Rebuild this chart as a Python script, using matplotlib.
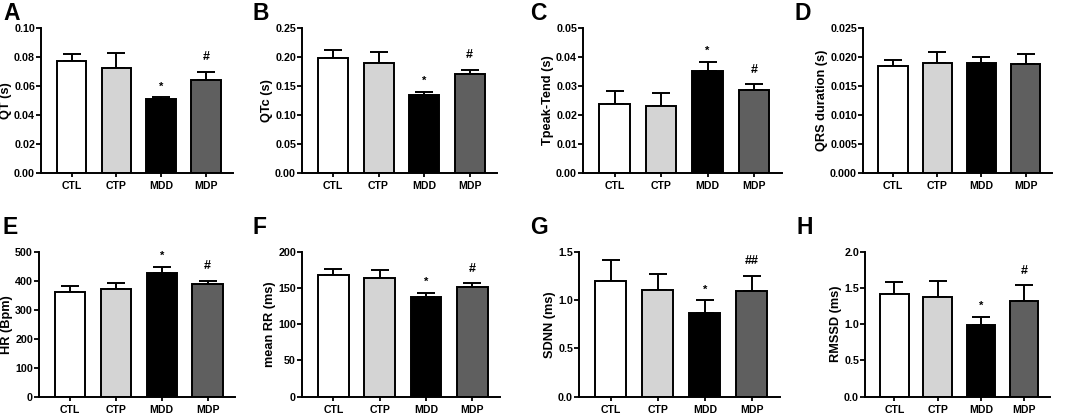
import numpy as np
import matplotlib
matplotlib.use('Agg')
import matplotlib.pyplot as plt
from matplotlib.ticker import FormatStrFormatter

plt.rcParams['font.family'] = ['Liberation Sans', 'DejaVu Sans']
plt.rcParams['font.weight'] = 'bold'

groups = ['CTL', 'CTP', 'MDD', 'MDP']
bar_colors = ['#ffffff', '#d4d4d4', '#000000', '#5f5f5f']

# means and upper error bar tops
qt_mean = [0.0770, 0.0724, 0.0510, 0.0641]
qt_top = [0.0818, 0.0825, 0.0522, 0.0697]
qtc_mean = [0.197, 0.1885, 0.1333, 0.171]
qtc_top = [0.212, 0.2075, 0.1397, 0.1776]
tpe_mean = [0.0236, 0.0230, 0.0352, 0.0286]
tpe_top = [0.0283, 0.0274, 0.0383, 0.0306]
qrs_mean = [0.0184, 0.01885, 0.0189, 0.01874]
qrs_top = [0.01943, 0.02075, 0.01994, 0.02046]
hr_mean = [360, 372, 425, 390]
hr_top = [382, 391, 448, 400]
rr_mean = [167.4, 164.1, 137.5, 151.3]
rr_top = [176.6, 174.7, 143.4, 156.3]
sdnn_mean = [1.20, 1.10, 0.866, 1.093]
sdnn_top = [1.414, 1.266, 0.997, 1.252]
rmssd_mean = [1.412, 1.375, 0.986, 1.319]
rmssd_top = [1.583, 1.597, 1.106, 1.537]

marks_a = ['', '', '*', '#']
marks_g = ['', '', '*', '##']
marks_d = ['', '', '', '']

panels = [
    ('A', 'QT (s)', qt_mean, qt_top, 0.10, 0.02, '%.2f', marks_a),
    ('B', 'QTc (s)', qtc_mean, qtc_top, 0.25, 0.05, '%.2f', marks_a),
    ('C', 'Tpeak-Tend (s)', tpe_mean, tpe_top, 0.05, 0.01, '%.2f', marks_a),
    ('D', 'QRS duration (s)', qrs_mean, qrs_top, 0.025, 0.005, '%.3f', marks_d),
    ('E', 'HR (Bpm)', hr_mean, hr_top, 500, 100, '%d', marks_a),
    ('F', 'mean RR (ms)', rr_mean, rr_top, 200, 50, '%d', marks_a),
    ('G', 'SDNN (ms)', sdnn_mean, sdnn_top, 1.5, 0.5, '%.1f', marks_g),
    ('H', 'RMSSD (ms)', rmssd_mean, rmssd_top, 2.0, 0.5, '%.1f', marks_a),
]

W, H = 1072, 415
# axes boxes in pixels: (left, right, top, bottom)
boxes = [
    (41, 233, 27.7, 172.7), (302, 497, 27.7, 172.7),
    (583, 782, 27.7, 172.7), (863, 1052, 27.7, 172.7),
    (39, 235, 251.7, 396.7), (302, 500, 251.7, 396.7),
    (579, 780, 251.7, 396.7), (865, 1050, 251.7, 396.7),
]
letter_pos = [(3, 2), (252, 2), (530, 2), (795, 2),
              (2, 215.5), (252, 215.5), (530, 215.5), (797, 215.5)]

fig = plt.figure(figsize=(W / 100, H / 100), dpi=100)

for (letter, ylabel, mean, top, ymax, step, fmt, marks), box, lp in zip(panels, boxes, letter_pos):
    l, r, t, b = box
    ax = fig.add_axes([l / W, 1 - b / H, (r - l) / W, (b - t) / H])
    x = np.arange(4)
    err = np.array(top) - np.array(mean)
    ax.bar(x, mean, width=0.66, color=bar_colors, edgecolor='black', linewidth=1.4, zorder=2)
    ax.errorbar(x, mean, yerr=[np.zeros(4), err], fmt='none', ecolor='black',
                elinewidth=1.4, capsize=6.5, capthick=1.4, zorder=1)
    for xi, ti, m in zip(x, top, marks):
        if m:
            dy = 4 if m == '*' else 6
            ax.annotate(m, (xi, ti), xytext=(0, dy), textcoords='offset points',
                        ha='center', va='bottom', fontsize=9 if m != '*' else 8,
                        fontweight='bold')
    ax.set_xlim(-0.68, 3.6)
    ax.set_ylim(0, ymax)
    ax.set_yticks(np.arange(0, ymax + step / 2, step))
    ax.yaxis.set_major_formatter(FormatStrFormatter(fmt))
    ax.set_xticks(x)
    ax.set_xticklabels(groups)
    ax.tick_params(axis='x', length=3, width=1.3, pad=3, labelsize=7.6)
    ax.tick_params(axis='y', length=3.5, width=1.3, labelsize=7.7, pad=0.8)
    for s in ['top', 'right']:
        ax.spines[s].set_visible(False)
    for s in ['left', 'bottom']:
        ax.spines[s].set_linewidth(1.4)
    ax.set_ylabel(ylabel, fontsize=9.2, fontweight='bold', labelpad=1.5)
    fig.text(lp[0] / W, 1 - lp[1] / H, letter, fontsize=16.5, fontweight='bold',
             ha='left', va='top')

fig.savefig('out.png', dpi=100)
